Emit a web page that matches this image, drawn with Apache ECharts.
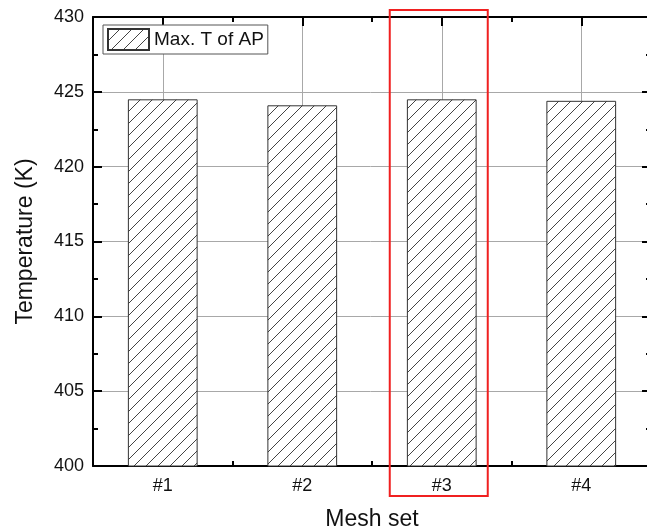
<!DOCTYPE html>
<html>
<head>
<meta charset="utf-8">
<script src="https://cdn.jsdelivr.net/npm/echarts@6/dist/echarts.min.js"></script>
<style>
  html, body { margin: 0; padding: 0; background: #fff; }
  #chart { width: 647px; height: 530px; }
</style>
</head>
<body>
<div id="chart"></div>
<script>
// data
var meshSets = ["#1", "#2", "#3", "#4"];
var maxTempAP = [424.5, 424.1, 424.5, 424.4];
var seriesName = "Max. T of AP";
var highlighted = "#3"; // boxed in red

var font = "'Liberation Sans', Arial, sans-serif";

// hatch pattern ///
function makeHatch() {
  var c = document.createElement("canvas");
  c.width = 12;
  c.height = 12;
  var ctx = c.getContext("2d");
  ctx.fillStyle = "#fff";
  ctx.fillRect(0, 0, 12, 12);
  ctx.strokeStyle = "#444";
  ctx.lineWidth = 1;
  ctx.beginPath();
  ctx.moveTo(0, 12); ctx.lineTo(12, 0);
  ctx.moveTo(-1, 1); ctx.lineTo(1, -1);
  ctx.moveTo(11, 13); ctx.lineTo(13, 11);
  ctx.stroke();
  return c;
}

var chart = echarts.init(document.getElementById("chart"));

var hiddenLabel = { show: false };
var option = {
  backgroundColor: "#fff",
  animation: false,
  textStyle: { fontFamily: font },
  // plot runs a little past the right edge of the picture
  grid: { left: 93, width: 558, top: 17, height: 449, outerBoundsMode: "none", containLabel: false },
  legend: {
    data: [seriesName],
    left: 103,
    top: 25,
    orient: "vertical",
    icon: "rect",
    itemWidth: 41,
    itemHeight: 21,
    itemGap: 5,
    padding: [3, 4, 3, 4],
    borderColor: "#555",
    borderWidth: 1,
    backgroundColor: "#fff",
    textStyle: { fontSize: 19, color: "#111", fontFamily: font }
  },
  xAxis: [
    {
      type: "category",
      data: meshSets,
      position: "bottom",
      name: "Mesh set",
      nameLocation: "middle",
      nameGap: 42,
      nameTextStyle: { fontSize: 23, color: "#111" },
      axisLine: { lineStyle: { color: "#000", width: 2 } },
      axisTick: { show: true, inside: true, length: 5, lineStyle: { color: "#000", width: 2 } },
      axisLabel: { fontSize: 18, color: "#111", margin: 11 },
      splitLine: { show: true, alignWithLabel: true, lineStyle: { color: "#a8a8a8", width: 1 } }
    },
    {
      type: "category",
      data: meshSets,
      position: "top",
      axisLine: { lineStyle: { color: "#000", width: 2 } },
      axisTick: { show: true, inside: true, alignWithLabel: true, length: 9, lineStyle: { color: "#000", width: 2 } },
      axisLabel: hiddenLabel
    },
    {
      type: "category",
      data: meshSets,
      position: "top",
      axisLine: { show: false },
      axisTick: { show: true, inside: true, length: 5, lineStyle: { color: "#000", width: 2 } },
      axisLabel: hiddenLabel
    }
  ],
  yAxis: [
    {
      type: "value",
      min: 400,
      max: 430,
      interval: 5,
      position: "left",
      name: "Temperature (K)",
      nameLocation: "middle",
      nameGap: 56,
      nameTextStyle: { fontSize: 23, color: "#111" },
      axisLine: { show: true, lineStyle: { color: "#000", width: 2 } },
      axisTick: { show: true, inside: true, length: 9, lineStyle: { color: "#000", width: 2 } },
      minorTick: { show: true, splitNumber: 2, length: 5, lineStyle: { color: "#000", width: 2 } },
      axisLabel: { fontSize: 18, color: "#111", margin: 9 },
      splitLine: { show: true, lineStyle: { color: "#a8a8a8", width: 1 } }
    },
    {
      type: "value",
      min: 400,
      max: 430,
      interval: 5,
      position: "right",
      axisLine: { show: true, lineStyle: { color: "#000", width: 2 } },
      axisTick: { show: true, inside: true, length: 9, lineStyle: { color: "#000", width: 2 } },
      minorTick: { show: true, splitNumber: 2, length: 5, lineStyle: { color: "#000", width: 2 } },
      axisLabel: hiddenLabel,
      splitLine: { show: false }
    }
  ],
  series: [
    {
      name: seriesName,
      type: "bar",
      data: maxTempAP,
      barWidth: "50%",
      itemStyle: {
        color: { image: makeHatch(), repeat: "repeat" },
        borderColor: "#333",
        borderWidth: 1
      }
    }
  ]
};

chart.setOption(option);

// red box around the highlighted mesh set
var cx = chart.convertToPixel({ xAxisIndex: 0 }, highlighted);
chart.setOption({
  graphic: [
    {
      type: "rect",
      shape: { x: cx - 52, y: 10, width: 98, height: 486 },
      style: { fill: "none", stroke: "#f02020", lineWidth: 2 },
      z: 100
    }
  ]
});
</script>
</body>
</html>
